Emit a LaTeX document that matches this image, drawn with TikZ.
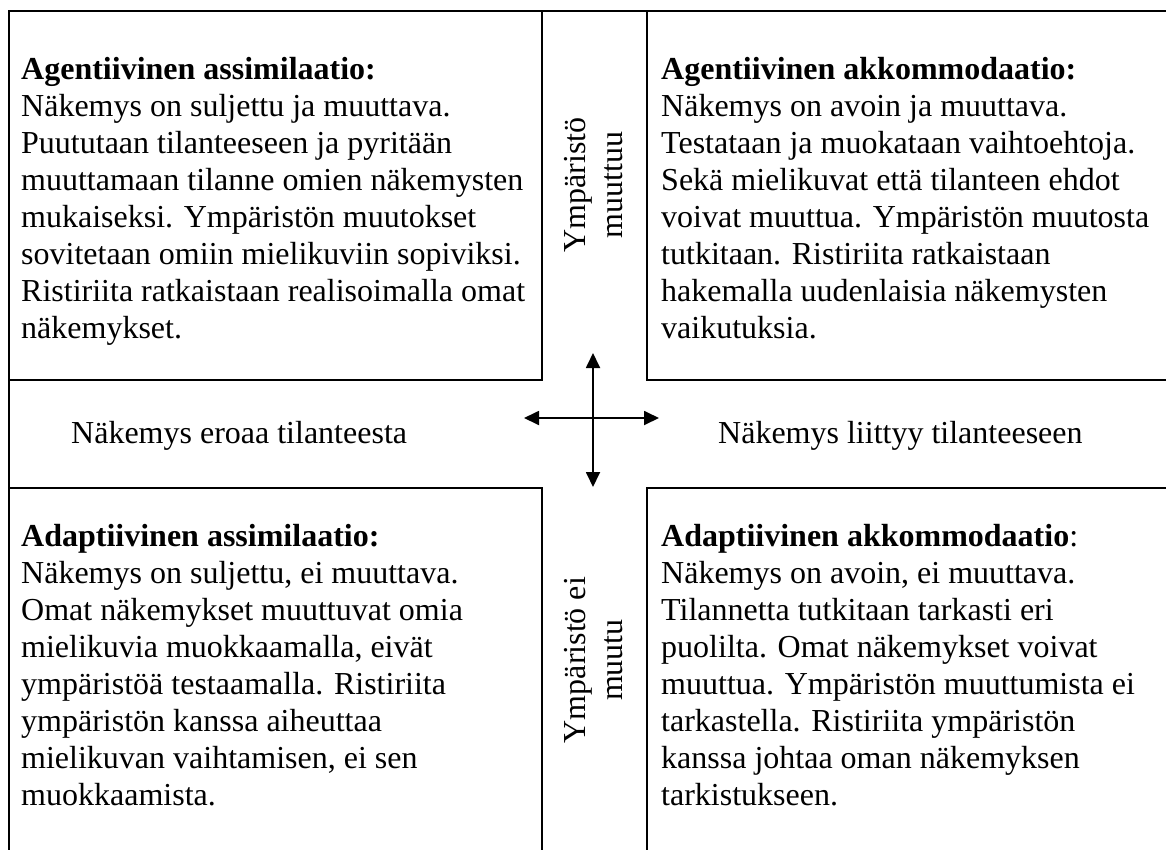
\documentclass[tikz,border=0pt]{standalone}
\usepackage{fontspec}
\setmainfont{Liberation Serif}
\usetikzlibrary{arrows.meta}
\newcommand\txtblk[1]{\begin{tabular}[t]{@{}l@{}}#1\end{tabular}}
\begin{document}
\begin{tikzpicture}[x=1pt,y=-1pt,
  frame/.style={line width=2.3pt, line cap=rect},
  arr/.style={line width=1.8pt, {Triangle[length=15pt,width=14pt]}-{Triangle[length=15pt,width=14pt]}},
  body/.style={inner sep=0pt, anchor=base west, font=\fontsize{32}{37}\selectfont},
  vert/.style={inner sep=0pt, rotate=90, align=center, font=\fontsize{32}{37}\selectfont}]
\useasboundingbox (0,0) rectangle (1166,849);
% frame
\draw[frame] (1166,11) -- (9,11) -- (9,849);
\draw[frame] (542,11) -- (542,380) -- (9,380);
\draw[frame] (647,11) -- (647,380) -- (1166,380);
\draw[frame] (9,488) -- (542,488) -- (542,849);
\draw[frame] (1166,488) -- (647,488) -- (647,849);
% text blocks
\node[body] (tl) at (21,79) {\txtblk{\textbf{Agentiivinen assimilaatio:}\\
Näkemys on suljettu ja muuttava.\\
Puututaan tilanteeseen ja pyritään\\
muuttamaan tilanne omien näkemysten\\
mukaiseksi. Ympäristön muutokset\\
sovitetaan omiin mielikuviin sopiviksi.\\
Ristiriita ratkaistaan realisoimalla omat\\
näkemykset.}};
\node[body] (tr) at (661,79) {\txtblk{\textbf{Agentiivinen akkommodaatio:}\\
Näkemys on avoin ja muuttava.\\
Testataan ja muokataan vaihtoehtoja.\\
Sekä mielikuvat että tilanteen ehdot\\
voivat muuttua. Ympäristön muutosta\\
tutkitaan. Ristiriita ratkaistaan\\
hakemalla uudenlaisia näkemysten\\
vaikutuksia.}};
\node[body] (bl) at (21,546) {\txtblk{\textbf{Adaptiivinen assimilaatio:}\\
Näkemys on suljettu, ei muuttava.\\
Omat näkemykset muuttuvat omia\\
mielikuvia muokkaamalla, eivät\\
ympäristöä testaamalla. Ristiriita\\
ympäristön kanssa aiheuttaa\\
mielikuvan vaihtamisen, ei sen\\
muokkaamista.}};
\node[body] (br) at (661,546) {\txtblk{\textbf{Adaptiivinen akkommodaatio}:\\
Näkemys on avoin, ei muuttava.\\
Tilannetta tutkitaan tarkasti eri\\
puolilta. Omat näkemykset voivat\\
muuttua. Ympäristön muuttumista ei\\
tarkastella. Ristiriita ympäristön\\
kanssa johtaa oman näkemyksen\\
tarkistukseen.}};
% middle texts
\node[body] (ml) at (71,443) {Näkemys eroaa tilanteesta};
\node[body] (mr) at (718,443) {Näkemys liittyy tilanteeseen};
% vertical texts
\node[vert] (vt) at (594,185) {Ympäristö\\muuttuu};
\node[vert] (vb) at (594,660) {Ympäristö ei\\muutu};
% arrows
\coordinate (aw) at (524,418);
\coordinate (ae) at (659,418);
\coordinate (an) at (593,353);
\coordinate (as) at (593,487);
\draw[arr] (aw) -- (ae);
\draw[arr] (an) -- (as);
\end{tikzpicture}
\end{document}
